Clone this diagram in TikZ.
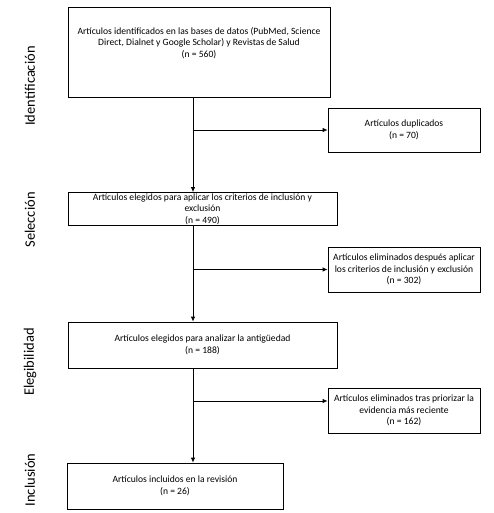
\documentclass[tikz,border=0pt]{standalone}
\usepackage{fontspec}
\setmainfont{Carlito}
\usetikzlibrary{arrows.meta,calc}
\begin{document}
\begin{tikzpicture}[x=1pt,y=-1pt,
  box/.style={draw=black,line width=0.8pt,rectangle,inner sep=0pt,align=center,
    font=\fontsize{9.6}{11.5}\selectfont},
  txt/.style={inner sep=0pt,align=center,font=\fontsize{9.6}{11.5}\selectfont},
  side/.style={rotate=90,inner sep=0pt,font=\fontsize{14.5}{16}\selectfont},
  arr/.style={line width=0.8pt,-{Latex[length=5pt,width=4.5pt]}},
  ln/.style={line width=0.8pt}]
\useasboundingbox (0,0) rectangle (494,513);
% boxes
\node[box,minimum width=262pt,minimum height=90pt] (b1) at (199,52) {};
\node[txt] (t1) at (199,43) {Artículos identificados en las bases de datos (PubMed, Science\\Direct, Dialnet y Google Scholar) y Revistas de Salud\\(n = 560)};
\node[box,minimum width=152pt,minimum height=44pt] (b2) at (404,130) {Artículos duplicados\\(n = 70)};
\node[box,minimum width=269pt,minimum height=33pt] (b3) at (202.5,209) {Artículos elegidos para aplicar los criterios de inclusión y\\exclusión\\(n = 490)};
\node[box,minimum width=152pt,minimum height=45pt] (b4) at (404,269.5) {Artículos eliminados después aplicar\\los criterios de inclusión y exclusión\\(n = 302)};
\node[box,minimum width=269pt,minimum height=46pt] (b5) at (202.5,345) {Artículos elegidos para analizar la antigüedad\\(n = 188)};
\node[box,minimum width=152pt,minimum height=45pt] (b6) at (404,410.5) {Artículos eliminados tras priorizar la\\evidencia más reciente\\(n = 162)};
\node[box,minimum width=216pt,minimum height=46pt] (b7) at (175,486) {Artículos incluidos en la revisión\\(n = 26)};
% side labels
\node[side] (s1) at (30,86) {Identificación};
\node[side] (s2) at (30,220) {Selección};
\node[side] (s3) at (30,362) {Elegibilidad};
\node[side] (s4) at (30,480) {Inclusión};
% connectors
\coordinate (v) at (193,0);
\draw[arr] (b1.south -| v) -- (b3.north -| v);
\draw[arr] (b2.west -| v) -- (b2.west);
\draw[arr] (b3.south -| v) -- (b5.north -| v);
\draw[arr] (b4.west -| v) -- (b4.west);
\draw[arr] (b5.south -| v) -- (b7.north -| v);
\coordinate (a6) at ([yshift=9.5pt]b6.west);
\draw[arr] (a6 -| v) -- (a6);
\end{tikzpicture}
\end{document}
